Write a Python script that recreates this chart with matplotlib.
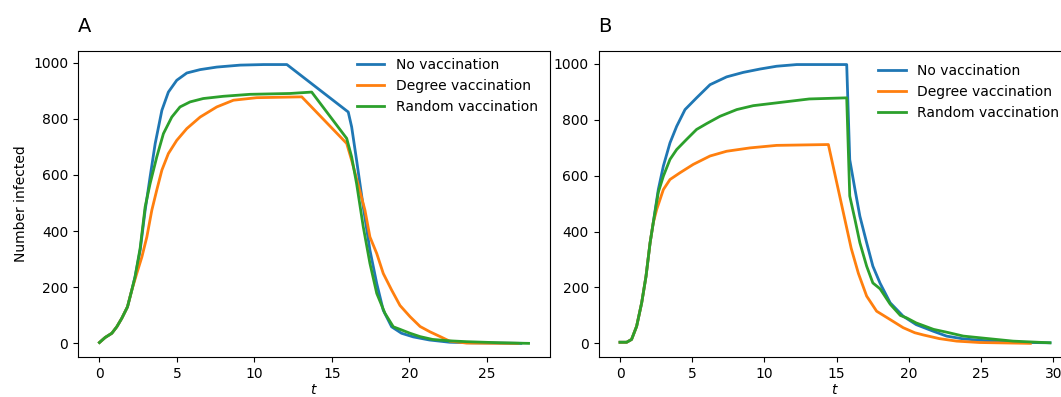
import matplotlib
matplotlib.use("Agg")
import matplotlib.pyplot as plt

# panel A
tA_none = [0, 0.37, 0.8, 1.12, 1.44, 1.81, 2.09, 2.3, 2.63, 2.95, 3.27, 3.6, 4.03, 4.45, 4.99,
           5.64, 6.5, 7.57, 9.08, 10.6, 12.1, 16.06, 16.28, 16.6, 17.03, 17.46, 17.9, 18.32,
           18.86, 19.5, 20.26, 21.3, 22.6, 24.0, 26.0, 27.2]
nA_none = [3, 21, 36, 59, 89, 130, 190, 237, 332, 474, 593, 712, 830, 895, 937,
           963, 975, 984, 991, 993, 993, 824, 771, 652, 486, 332, 213, 118,
           59, 36, 23, 12, 4, 2, 1, 0]

tA_degree = [0, 0.37, 0.8, 1.12, 1.44, 1.81, 2.09, 2.41, 2.74, 3.06, 3.38, 3.7, 4.03, 4.45,
             4.99, 5.64, 6.5, 7.57, 8.65, 10.15, 13.06, 15.96, 16.28, 16.8, 17.14, 17.46,
             17.9, 18.32, 18.86, 19.4, 20.05, 20.7, 21.34, 22.0, 22.6, 23.7, 27.0]
nA_degree = [3, 21, 36, 59, 89, 130, 190, 249, 308, 379, 474, 546, 617, 676,
             723, 765, 806, 842, 866, 875, 878, 712, 652, 545, 474, 379,
             320, 249, 190, 135, 95, 60, 41, 24, 8, 1, 0]

tA_random = [0, 0.37, 0.8, 1.12, 1.44, 1.81, 2.09, 2.3, 2.63, 2.95, 3.27, 3.7, 4.13, 4.67,
             5.2, 5.85, 6.7, 8.0, 9.72, 12.3, 13.7, 15.96, 16.28, 16.6, 17.03, 17.46, 17.9,
             18.43, 18.97, 19.4, 20.05, 20.7, 21.5, 22.6, 23.7, 25.9, 27.7]
nA_random = [3, 21, 36, 59, 89, 130, 190, 237, 340, 486, 569, 664, 747, 806,
             842, 860, 872, 880, 887, 890, 895, 730, 664, 569, 415, 285, 178,
             107, 59, 50, 36, 24, 14, 9, 6, 2, 0]

# panel B
tB_none = [0, 0.46, 0.8, 1.15, 1.5, 1.8, 2.08, 2.3, 2.65, 3.0, 3.46, 3.92, 4.5, 5.3, 6.23,
           7.38, 8.53, 9.69, 10.84, 12.23, 15.69, 15.9, 16.26, 16.6, 17.07, 17.5, 18.0,
           18.7, 19.6, 20.5, 21.7, 22.6, 23.76, 24.9, 27.2, 29.76]
nB_none = [4, 4, 14, 61, 145, 240, 359, 431, 550, 634, 717, 776, 836, 878, 925,
           953, 969, 981, 991, 997, 997, 657, 551, 455, 360, 276, 215,
           145, 97, 67, 43, 26, 16, 11, 4, 2]

tB_degree = [0, 0.46, 0.8, 1.15, 1.5, 1.8, 2.08, 2.3, 2.54, 3.0, 3.46, 4.15, 5.07, 6.23,
             7.38, 9.0, 10.84, 14.42, 16.0, 16.5, 17.07, 17.76, 18.7, 19.6, 20.4, 21.0,
             22.1, 23.3, 24.9, 28.4]
nB_degree = [4, 4, 14, 61, 145, 240, 359, 431, 479, 550, 586, 610, 640, 670,
             687, 699, 708, 711, 340, 250, 169, 115, 85, 56, 38, 30,
             17, 8, 3, 0]

tB_random = [0, 0.46, 0.8, 1.15, 1.5, 1.8, 2.08, 2.3, 2.65, 3.0, 3.46, 3.92, 4.6, 5.3, 6.0,
             6.92, 8.08, 9.22, 10.84, 13.1, 15.69, 15.9, 16.26, 16.6, 17.07, 17.5, 18.0,
             18.7, 19.4, 19.84, 20.5, 21.7, 22.6, 23.76, 24.9, 27.2, 29.76]
nB_random = [4, 4, 14, 61, 145, 240, 359, 431, 540, 598, 658, 693, 729, 765, 786,
             812, 836, 850, 860, 874, 878, 527, 443, 360, 276, 216, 195,
             140, 100, 91, 73, 50, 40, 26, 20, 8, 2]

labels = ['No vaccination', 'Degree vaccination', 'Random vaccination']

fig = plt.figure(figsize=(10.61, 3.97), dpi=100)
axA = fig.add_axes([0.0735, 0.1, 0.4449, 0.7725])
axB = fig.add_axes([0.5641, 0.1, 0.4458, 0.7725])

for ax, data in [(axA, [(tA_none, nA_none), (tA_degree, nA_degree), (tA_random, nA_random)]),
                 (axB, [(tB_none, nB_none), (tB_degree, nB_degree), (tB_random, nB_random)])]:
    for (t, n), lab in zip(data, labels):
        ax.plot(t, n, lw=2, label=lab)
    ax.set_xlabel('$t$', labelpad=1.5)
    ax.set_yticks([0, 200, 400, 600, 800, 1000])

axA.set_ylabel('Number infected')
axA.legend(loc='upper right', frameon=False, bbox_to_anchor=(1, 1.017))
axB.legend(loc='upper right', frameon=False, bbox_to_anchor=(1, 0.998))

axA.text(0.0, 1.06, 'A', transform=axA.transAxes, fontsize=14)
axB.text(0.0, 1.06, 'B', transform=axB.transAxes, fontsize=14)

fig.savefig('out.png', dpi=100)
